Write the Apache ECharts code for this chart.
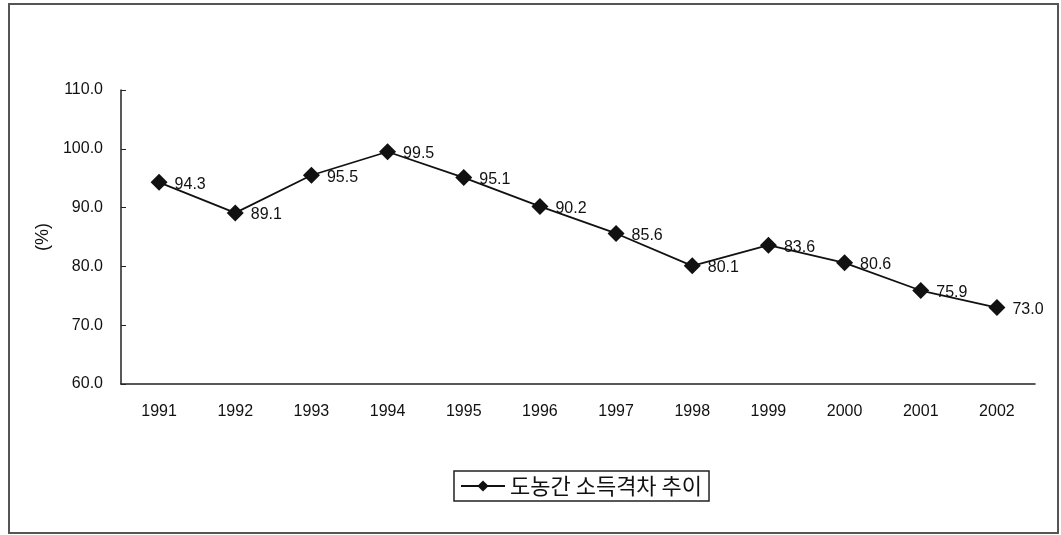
<!DOCTYPE html>
<html><head><meta charset="utf-8">
<script src="https://cdn.jsdelivr.net/npm/echarts@6/dist/echarts.min.js"></script>
<style>html,body{margin:0;padding:0;background:#fff}#c{width:1061px;height:535px}</style>
</head><body><div id="c"></div>
<script>
var categories = ['1991','1992','1993','1994','1995','1996','1997','1998','1999','2000','2001','2002'];
var values = [94.3, 89.1, 95.5, 99.5, 95.1, 90.2, 85.6, 80.1, 83.6, 80.6, 75.9, 73.0];
var seriesName = '도농간 소득격차 추이';
var yMin = 60, yMax = 110, yStep = 10;

var font = '"Liberation Sans", Arial, "Noto Sans CJK KR", sans-serif';
var chart = echarts.init(document.getElementById('c'));
chart.setOption({
  animation: false,
  backgroundColor: '#fff',
  textStyle: {fontFamily: font},
  graphic: [{type: 'rect', shape: {x: 9, y: 4, width: 1049, height: 529}, style: {fill: 'none', stroke: '#555', lineWidth: 2}, z: -1}],
  grid: {left: 121, top: 90, width: 914, bottom: 151},
  legend: {
    bottom: 34, left: 454, data: [seriesName],
    borderColor: '#222', borderWidth: 1.5, padding: [4, 7, 4, 6], itemWidth: 44, itemHeight: 14, itemGap: 6,
    textStyle: {fontSize: 22, color: '#111', fontFamily: '"Noto Sans CJK KR", sans-serif'}
  },
  xAxis: {
    type: 'category', data: categories, boundaryGap: true,
    axisLine: {lineStyle: {color: '#222', width: 1.5}},
    axisTick: {inside: true, length: 5, lineStyle: {color: '#222'}},
    axisLabel: {color: '#111', fontSize: 16, margin: 20}
  },
  yAxis: {
    type: 'value', min: yMin, max: yMax, interval: yStep,
    name: '(%)', nameLocation: 'middle', nameGap: 66, nameRotate: 90,
    nameTextStyle: {fontSize: 18, color: '#111'},
    splitLine: {show: false},
    axisLine: {show: true, lineStyle: {color: '#222', width: 1.5}},
    axisTick: {show: true, inside: true, length: 5, lineStyle: {color: '#222'}},
    axisLabel: {color: '#111', fontSize: 16, margin: 18, formatter: function (v) { return v.toFixed(1); }}
  },
  series: [{
    name: seriesName, type: 'line', data: values,
    symbol: 'diamond', symbolSize: 17,
    lineStyle: {color: '#111', width: 1.8},
    itemStyle: {color: '#111'},
    label: {show: true, position: 'right', distance: 7, offset: [0, 2], color: '#111', fontSize: 16,
      formatter: function (p) { return p.value.toFixed(1); }}
  }]
});
</script></body></html>
